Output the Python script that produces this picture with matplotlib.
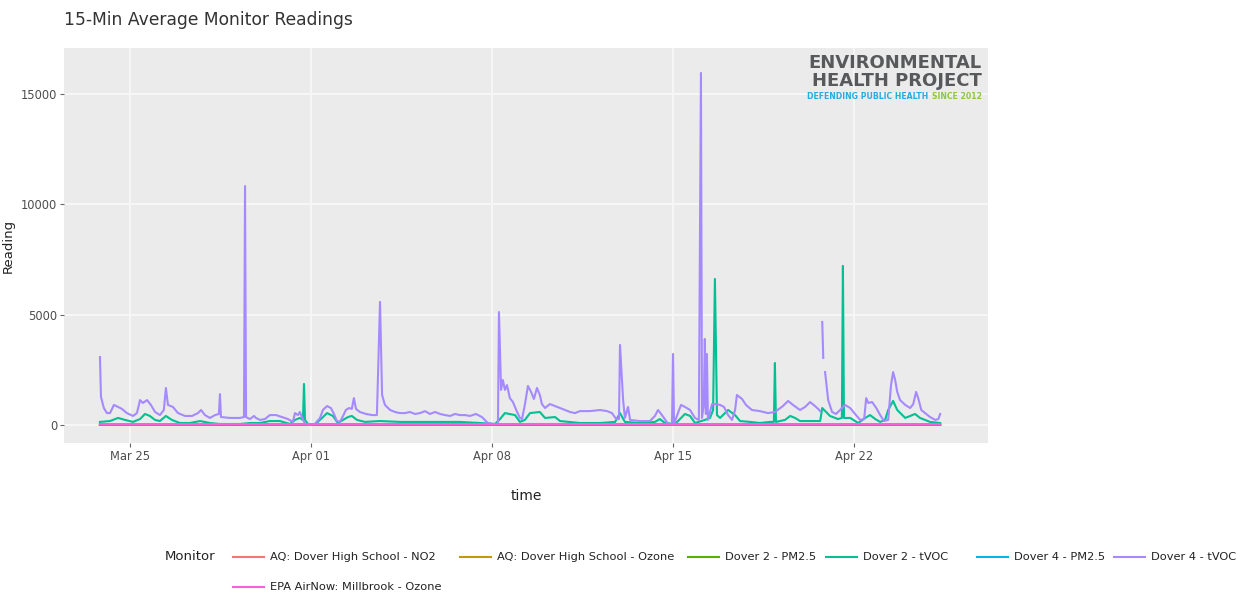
import numpy as np
import matplotlib
matplotlib.use("Agg")
import matplotlib.pyplot as plt
import matplotlib.dates as mdates
from matplotlib.lines import Line2D
from datetime import datetime

# ---------------- data (days since Mar 23, readings) ----------------
start_date = datetime(2019, 3, 23)

d4_tvoc_days = [0.84, 0.88, 0.99, 1.11, 1.23, 1.38, 1.54, 1.69, 1.88, 2.12, 2.27, 2.39, 2.50, 2.66,
                2.81, 2.97, 3.16, 3.31, 3.39, 3.47, 3.66, 3.86, 4.13, 4.40, 4.63, 4.75, 4.90, 5.09,
                5.29, 5.44, 5.48, 5.52, 5.87, 6.25, 6.41, 6.45, 6.49, 6.64, 6.80, 6.87, 7.03, 7.22,
                7.41, 7.65, 7.88, 8.11, 8.30, 8.38, 8.50, 8.57, 8.65, 8.77, 8.96, 9.15, 9.35, 9.46,
                9.62, 9.77, 9.89, 10.00, 10.12, 10.24, 10.35, 10.47, 10.58, 10.66, 10.74, 10.89,
                11.13, 11.36, 11.55, 11.67, 11.75, 11.86, 12.06, 12.25, 12.44, 12.64, 12.83, 13.02,
                13.22, 13.41, 13.60, 13.80, 13.99, 14.18, 14.38, 14.57, 14.76, 14.95, 15.15, 15.38,
                15.61, 15.84, 16.08, 16.23, 16.27, 16.35, 16.42, 16.50, 16.58, 16.69, 16.81, 16.97,
                17.08, 17.16, 17.27, 17.39, 17.51, 17.62, 17.74, 17.85, 17.93, 18.05, 18.24, 18.44,
                18.63, 18.82, 19.02, 19.21, 19.40, 19.79, 20.18, 20.45, 20.64, 20.80, 20.91, 20.95,
                21.07, 21.14, 21.26, 21.34, 21.72, 22.11, 22.30, 22.42, 22.54, 22.65, 22.81, 22.96,
                23.00, 23.04, 23.19, 23.31, 23.46, 23.66, 23.85, 24.00, 24.08, 24.12, 24.19, 24.23,
                24.27, 24.31, 24.35, 24.43, 24.51, 24.66, 24.82, 24.97, 25.13, 25.28, 25.40, 25.47,
                25.67, 25.82, 26.05, 26.36, 26.67, 26.94, 27.25, 27.45, 27.64, 27.91, 28.11, 28.30,
                28.49, 28.61, 28.69, 28.73, 28.77, 28.81, 28.85, 28.88, 29.00, 29.15, 29.30, 29.46,
                29.65, 29.85, 30.04, 30.24, 30.39, 30.47, 30.55, 30.70, 30.86, 31.01, 31.16, 31.32,
                31.43, 31.51, 31.59, 31.67, 31.78, 31.98, 32.17, 32.29, 32.40, 32.48, 32.60, 32.75,
                32.94, 33.14, 33.26, 33.33]
d4_tvoc_vals = [3080, 1270, 770, 540, 540, 910, 820, 730, 540, 410, 540, 1130, 1000, 1130,
                910, 590, 450, 680, 1680, 910, 820, 540, 410, 410, 540, 680, 450, 320,
                450, 500, 1400, 360, 320, 320, 360, 10830, 360, 270, 410, 320, 230, 270,
                450, 450, 360, 270, 140, 540, 450, 590, 360, 45, 20, 45, 320, 680,
                860, 770, 500, 180, 140, 410, 680, 770, 730, 1220, 730, 590,
                500, 450, 450, 5580, 1360, 910, 680, 590, 540, 540, 590, 500,
                540, 630, 500, 590, 500, 450, 410, 500, 450, 450, 410, 500,
                360, 90, 45, 45, 5120, 1590, 2040, 1590, 1810, 1220, 1040, 590,
                320, 270, 910, 1770, 1500, 1180, 1680, 1360, 950, 770, 950, 860,
                770, 680, 590, 540, 630, 630, 680, 630, 540, 270, 270, 3630,
                1130, 320, 820, 230, 180, 180, 410, 680, 500, 320, 45, 45,
                3220, 45, 540, 910, 820, 680, 320, 230, 15960, 320, 910, 3900,
                500, 3220, 230, 590, 950, 950, 910, 820, 450, 230, 680, 1360,
                1180, 910, 680, 630, 540, 590, 860, 1090, 910, 680, 820, 1040,
                860, 730, 630, np.nan, 4670, 3040, np.nan, 2400, 1130, 590, 500, 680,
                910, 770, 500, 230, 270, 1220, 1000, 1040, 770, 450, 180, 230,
                1810, 2400, 2040, 1500, 1130, 910, 770, 950, 1500, 1220, 680, 540,
                360, 230, 270, 500]

d2_tvoc_days = [0.84, 1.23, 1.54, 1.81, 2.12, 2.39, 2.58, 2.77, 2.97, 3.16, 3.39, 3.62, 3.93, 4.32,
                4.71, 5.09, 5.48, 6.25, 6.64, 7.03, 7.41, 7.80, 8.19, 8.38, 8.57, 8.69, 8.73, 8.77,
                8.88, 9.15, 9.43, 9.62, 9.85, 10.04, 10.24, 10.43, 10.58, 10.78, 11.09, 11.67, 12.44,
                13.22, 13.99, 14.76, 15.54, 16.12, 16.31, 16.50, 16.89, 17.08, 17.27, 17.47, 17.85,
                18.05, 18.44, 18.63, 19.40, 20.18, 20.76, 20.95, 21.14, 21.72, 22.30, 22.49, 22.69,
                23.08, 23.27, 23.46, 23.66, 23.85, 24.23, 24.43, 24.55, 24.62, 24.70, 24.82, 25.13,
                25.40, 25.59, 25.98, 26.36, 26.75, 26.90, 26.94, 26.98, 27.33, 27.53, 27.72, 27.91,
                28.30, 28.69, 28.77, 29.07, 29.38, 29.53, 29.57, 29.61, 29.85, 30.16, 30.43, 30.62,
                30.82, 31.01, 31.20, 31.32, 31.51, 31.67, 31.98, 32.36, 32.55, 32.94, 33.33]
d2_tvoc_vals = [140, 180, 320, 230, 140, 270, 500, 410, 230, 180, 410, 230, 90, 90,
                180, 90, 45, 45, 90, 90, 180, 180, 45, 230, 320, 230, 1860, 230,
                45, 20, 320, 540, 410, 90, 230, 360, 410, 230, 140, 180, 140,
                140, 140, 140, 90, 45, 270, 540, 450, 140, 230, 540, 590,
                320, 360, 180, 90, 90, 140, 540, 140, 90, 140, 270, 90,
                45, 270, 500, 410, 90, 230, 320, 680, 6620, 450, 320, 680,
                450, 180, 140, 90, 140, 140, 2810, 140, 230, 410, 320, 180,
                180, 180, 770, 410, 270, 320, 7210, 320, 320, 90, 320, 450,
                270, 140, 230, 680, 1090, 680, 320, 500, 320, 140, 90]

minor_days = [0.84, 3.0, 6.0, 9.0, 12.0, 15.0, 18.0, 21.0, 24.0, 27.0, 30.0, 33.33]
aq_no2_vals = [15, 20, 10, 25, 18, 12, 22, 15, 20, 10, 18, 14]
aq_ozone_vals = [30, 35, 40, 38, 32, 36, 42, 40, 35, 38, 41, 37]
d2_pm25_vals = [8, 10, 6, 9, 7, 5, 8, 6, 10, 7, 9, 6]
d4_pm25_vals = [6, 8, 5, 7, 6, 4, 7, 5, 8, 6, 7, 5]
epa_ozone_vals = [35, 40, 42, 38, 36, 40, 45, 44, 38, 40, 43, 39]

monitor_names = ["AQ: Dover High School - NO2", "AQ: Dover High School - Ozone",
                 "Dover 2 - PM2.5", "Dover 2 - tVOC", "Dover 4 - PM2.5",
                 "Dover 4 - tVOC", "EPA AirNow: Millbrook - Ozone"]
monitor_colors = ["#F8766D", "#C49A00", "#53B400", "#00C094", "#00B6EB", "#A58AFF", "#FB61D7"]

# ---------------- figure ----------------
plt.rcParams['font.family'] = ['DejaVu Sans']
fig = plt.figure(figsize=(12.52, 5.95), dpi=100)
W, H = 1252, 595
ax = fig.add_axes([64 / W, 1 - 443 / H, (988 - 64) / W, (443 - 48) / H])
ax.set_facecolor("#EBEBEB")
for s in ax.spines.values():
    s.set_visible(False)

base = mdates.date2num(start_date)
def tx(days):
    return base + np.asarray(days, dtype=float)

series = [
    (minor_days, aq_no2_vals),
    (minor_days, aq_ozone_vals),
    (minor_days, d2_pm25_vals),
    (d2_tvoc_days, d2_tvoc_vals),
    (minor_days, d4_pm25_vals),
    (d4_tvoc_days, d4_tvoc_vals),
    (minor_days, epa_ozone_vals),
]
for (dx, vy), c in zip(series, monitor_colors):
    ax.plot(tx(dx), np.asarray(vy, dtype=float), color=c, lw=1.5, solid_joinstyle='round')

ax.set_xlim(tx([-0.55])[0], tx([35.18])[0])
ax.set_ylim(-816, 17090)
ax.set_yticks([0, 5000, 10000, 15000])
ax.xaxis.set_major_locator(mdates.WeekdayLocator(byweekday=mdates.MO))
ax.xaxis.set_major_formatter(mdates.DateFormatter("%b %d"))
ax.grid(True, color="#F7F7F7", lw=1.4)
ax.set_axisbelow(True)
ax.tick_params(axis='both', length=3, width=0.8, color="#666666", labelcolor="#4D4D4D",
               labelsize=8.3, pad=2)

ax.set_xlabel("time", fontsize=10, color="#222222", labelpad=19)
ax.set_ylabel("Reading", fontsize=9.5, color="#222222", labelpad=4)

fig.text(64 / W, 1 - 20 / H, "15-Min Average Monitor Readings", fontsize=12.3,
         color="#333333", va='center', ha='left')

# logo
fig.text(982 / W, 1 - 63 / H, "ENVIRONMENTAL", fontsize=13, color="#58595B",
         ha='right', va='center', weight='bold')
fig.text(982 / W, 1 - 81 / H, "HEALTH PROJECT", fontsize=13, color="#58595B",
         ha='right', va='center', weight='bold')
fig.text(928 / W, 1 - 96.5 / H, "DEFENDING PUBLIC HEALTH", fontsize=5.6, color="#29ABE2",
         ha='right', va='center', weight='bold')
fig.text(982 / W, 1 - 96.5 / H, "SINCE 2012", fontsize=5.6, color="#8DC63F",
         ha='right', va='center', weight='bold')

# legend
fig.text(165 / W, 1 - 557 / H, "Monitor", fontsize=9.5, color="#222222", va='center', ha='left')
legend_pos = [(233, 557), (460, 557), (688, 557), (826, 557), (977, 557), (1114, 557), (233, 587)]
for (lx, ly), name, c in zip(legend_pos, monitor_names, monitor_colors):
    fig.add_artist(Line2D([lx / W, (lx + 31) / W], [1 - ly / H, 1 - ly / H], color=c, lw=1.5))
    fig.text((lx + 37) / W, 1 - ly / H, name, fontsize=8.2, color="#222222", va='center', ha='left')

fig.savefig("out.png", dpi=100, facecolor="white")
